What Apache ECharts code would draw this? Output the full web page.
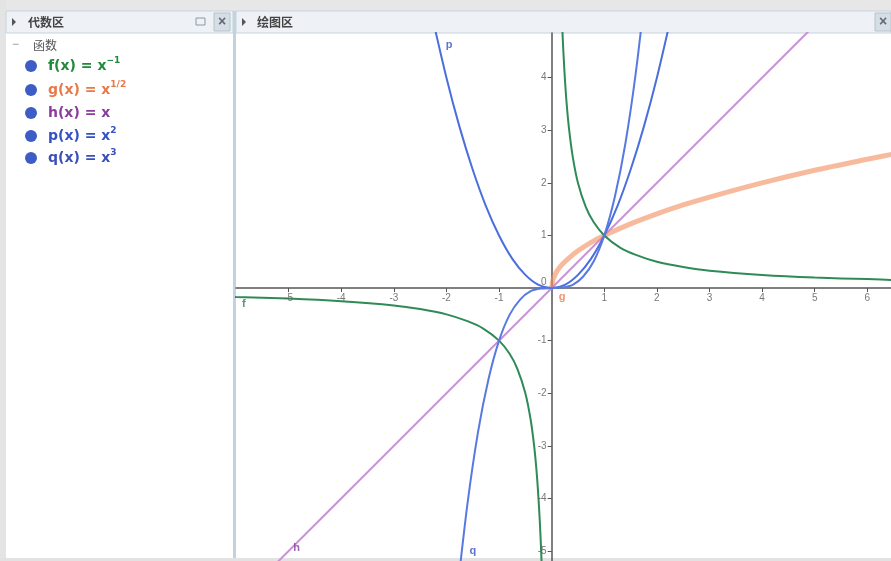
<!DOCTYPE html>
<html>
<head>
<meta charset="utf-8">
<script src="https://cdn.jsdelivr.net/npm/echarts@6/dist/echarts.min.js"></script>
<style>
html,body{margin:0;padding:0;background:#fff;}
#main{width:891px;height:561px;}
</style>
</head>
<body>
<div id="main"></div>
<script>
// 读图得到的点 (x, y)
var fLeft = [[-6.2,-0.16],[-6,-0.17],[-5,-0.2],[-4,-0.25],[-3,-0.33],[-2.5,-0.4],[-2,-0.5],[-1.6,-0.63],[-1.3,-0.77],[-1,-1],[-0.8,-1.25],[-0.65,-1.54],[-0.5,-2],[-0.4,-2.5],[-0.33,-3.03],[-0.28,-3.57],[-0.24,-4.17],[-0.21,-4.76],[-0.19,-5.26],[-0.17,-5.88]];
var fRight = [[0.17,5.88],[0.19,5.26],[0.21,4.76],[0.24,4.17],[0.28,3.57],[0.33,3.03],[0.4,2.5],[0.5,2],[0.65,1.54],[0.8,1.25],[1,1],[1.3,0.77],[1.6,0.63],[2,0.5],[2.5,0.4],[3,0.33],[4,0.25],[5,0.2],[6,0.17],[6.6,0.15]];
var gPts = [[0,0],[0.02,0.14],[0.05,0.22],[0.1,0.32],[0.2,0.45],[0.35,0.59],[0.5,0.71],[0.75,0.87],[1,1],[1.5,1.22],[2,1.41],[2.5,1.58],[3,1.73],[4,2],[5,2.24],[6,2.45],[6.6,2.57]];
var hPts = [[-6.2,-6.2],[6.6,6.6]];
var pPts = [[-2.3,5.29],[-2,4],[-1.75,3.06],[-1.5,2.25],[-1.25,1.56],[-1,1],[-0.75,0.56],[-0.5,0.25],[-0.25,0.06],[0,0],[0.25,0.06],[0.5,0.25],[0.75,0.56],[1,1],[1.25,1.56],[1.5,2.25],[1.75,3.06],[2,4],[2.3,5.29]];
var qPts = [[-1.8,-5.83],[-1.6,-4.1],[-1.4,-2.74],[-1.2,-1.73],[-1,-1],[-0.8,-0.51],[-0.6,-0.22],[-0.4,-0.06],[-0.2,-0.01],[0,0],[0.2,0.01],[0.4,0.06],[0.6,0.22],[0.8,0.51],[1,1],[1.2,1.73],[1.4,2.74],[1.6,4.1],[1.8,5.83]];

var xTicks = [-5,-4,-3,-2,-1,1,2,3,4,5,6];
var yTicks = [-5,-4,-3,-2,-1,0,1,2,3,4];

// 曲线旁的名字
var curveNames = ['p','f','h','q','g'];
var curveLabelX = [-1.95,-5.85,-4.85,-1.5,0.2];
var curveLabelY = [4.62,-0.3,-4.95,-5.0,-0.17];

// 代数区条目
var algebraNames = ['f(x) = x','g(x) = x','h(x) = x','p(x) = x','q(x) = x'];
var algebraPowers = ['\u22121','1/2','','2','3'];

var colors = {f:'#2e8b57', g:'rgba(244,140,92,0.6)', h:'#c890d8', p:'#4a6fdc', q:'#5879e0'};
var textColors = {f:'#1f8a3a', g:'#e8794a', h:'#8a3d9c', p:'#3552c4', q:'#3a4fb8'};
var cjk = '"Noto Sans CJK SC", sans-serif';

var chart = echarts.init(document.getElementById('main'));

function lineSeries(name, pts, color, width, smooth) {
    return {
        name: name,
        type: 'line',
        data: pts,
        showSymbol: false,
        smooth: smooth,
        clip: true,
        silent: true,
        lineStyle: {color: color, width: width},
        z: 3
    };
}

var labelData = [];
for (var i = 0; i < curveNames.length; i++) {
    labelData.push({
        value: [curveLabelX[i], curveLabelY[i]],
        label: {show: true, formatter: curveNames[i], color: textColors[curveNames[i]]}
    });
}

// 坐标轴数字，放在轴线旁边
var xLabelData = xTicks.map(function (v) { return {value: [v, 0], label: {formatter: String(v)}}; });
var yLabelData = yTicks.map(function (v) {
    var item = {value: [0, v], label: {formatter: String(v)}};
    if (v === 0) item.label.offset = [0, -6];
    return item;
});

var graphics = [
    {type:'rect', shape:{x:0,y:0,width:891,height:11}, style:{fill:'#e7e7e7'}, z:-5},
    {type:'rect', shape:{x:0,y:0,width:6,height:561}, style:{fill:'#e4e4e4'}, z:-5},
    {type:'rect', shape:{x:0,y:558,width:891,height:3}, style:{fill:'#e2e2e2'}, z:-5},
    {type:'rect', shape:{x:6,y:11,width:227,height:22}, style:{fill:'#eef2f6', stroke:'#c6d3de', lineWidth:1}, z:-4},
    {type:'rect', shape:{x:236,y:11,width:655,height:22}, style:{fill:'#eef2f6', stroke:'#c6d3de', lineWidth:1}, z:-4},
    {type:'rect', shape:{x:233,y:11,width:3,height:547}, style:{fill:'#c4d2dd'}, z:-4},
    {type:'polygon', shape:{points:[[12,18],[12,26],[16,22]]}, style:{fill:'#555'}},
    {type:'text', x:28, y:22, style:{text:'代数区', font:'bold 12px ' + cjk, fill:'#444', verticalAlign:'middle'}},
    {type:'polygon', shape:{points:[[242,18],[242,26],[246,22]]}, style:{fill:'#555'}},
    {type:'text', x:257, y:22, style:{text:'绘图区', font:'bold 12px ' + cjk, fill:'#444', verticalAlign:'middle'}},
    {type:'rect', shape:{x:196,y:18,width:9,height:7}, style:{fill:'none', stroke:'#8a96a2', lineWidth:1}},
    {type:'rect', shape:{x:214,y:13,width:16,height:18}, style:{fill:'#d5dde5', stroke:'#b8c4ce'}},
    {type:'text', x:222, y:22, style:{text:'\u00d7', font:'bold 14px sans-serif', fill:'#667', align:'center', verticalAlign:'middle'}},
    {type:'rect', shape:{x:875,y:13,width:16,height:18}, style:{fill:'#d5dde5', stroke:'#b8c4ce'}},
    {type:'text', x:883, y:22, style:{text:'\u00d7', font:'bold 14px sans-serif', fill:'#667', align:'center', verticalAlign:'middle'}},
    {type:'text', x:12, y:45, style:{text:'\u2212', font:'12px sans-serif', fill:'#999', verticalAlign:'middle'}},
    {type:'text', x:33, y:45, style:{text:'函数', font:'12px ' + cjk, fill:'#555', verticalAlign:'middle'}}
];

var rowY = [66, 90, 113, 136, 158];
var rowKeys = ['f','g','h','p','q'];
for (var j = 0; j < algebraNames.length; j++) {
    graphics.push({type:'circle', shape:{cx:31, cy:rowY[j], r:6}, style:{fill:'#3d5cc6'}});
    graphics.push({
        type:'text', x:48, y:rowY[j],
        style:{
            text: '{b|' + algebraNames[j] + '}' + (algebraPowers[j] ? '{s|' + algebraPowers[j] + '}' : ''),
            verticalAlign:'middle',
            rich:{
                b:{font:'bold 14px "DejaVu Sans", sans-serif', fill:textColors[rowKeys[j]], lineHeight:20, verticalAlign:'middle'},
                s:{font:'bold 9px "DejaVu Sans", sans-serif', fill:textColors[rowKeys[j]], lineHeight:10, verticalAlign:'top'}
            }
        }
    });
}

var option = {
    animation: false,
    backgroundColor: '#fff',
    graphic: graphics,
    grid: {left:236, top:33, right:0, bottom:0, containLabel:false, outerBoundsMode:'none'},
    xAxis: {
        type: 'value',
        min: -6,
        max: 6.45,
        axisLine: {onZero:true, lineStyle:{color:'#555', width:1.5}},
        axisTick: {show:true, customValues:xTicks, length:4, lineStyle:{color:'#555'}},
        axisLabel: {show:false},
        splitLine: {show:false}
    },
    yAxis: {
        type: 'value',
        min: -5.19,
        max: 4.85,
        axisLine: {onZero:true, lineStyle:{color:'#555', width:1.5}},
        axisTick: {show:true, customValues:yTicks, length:4, lineStyle:{color:'#555'}},
        axisLabel: {show:false},
        splitLine: {show:false}
    },
    series: [
        lineSeries('h', hPts, colors.h, 2, false),
        lineSeries('g', gPts, colors.g, 5, 0.3),
        lineSeries('f1', fLeft, colors.f, 2, 0.3),
        lineSeries('f2', fRight, colors.f, 2, 0.3),
        lineSeries('p', pPts, colors.p, 2, 0.3),
        lineSeries('q', qPts, colors.q, 2, 0.3),
        {
            type: 'scatter',
            symbolSize: 0,
            silent: true,
            data: labelData,
            label: {show:true, position:'inside', fontSize:11, fontWeight:'bold'},
            z: 4
        },
        {
            type: 'scatter',
            symbolSize: 0,
            silent: true,
            data: xLabelData,
            label: {show:true, position:'bottom', distance:5, color:'#555', fontSize:10},
            z: 4
        },
        {
            type: 'scatter',
            symbolSize: 0,
            silent: true,
            data: yLabelData,
            label: {show:true, position:'left', distance:5, color:'#555', fontSize:10},
            z: 5
        }
    ]
};
chart.setOption(option);
</script>
</body>
</html>
